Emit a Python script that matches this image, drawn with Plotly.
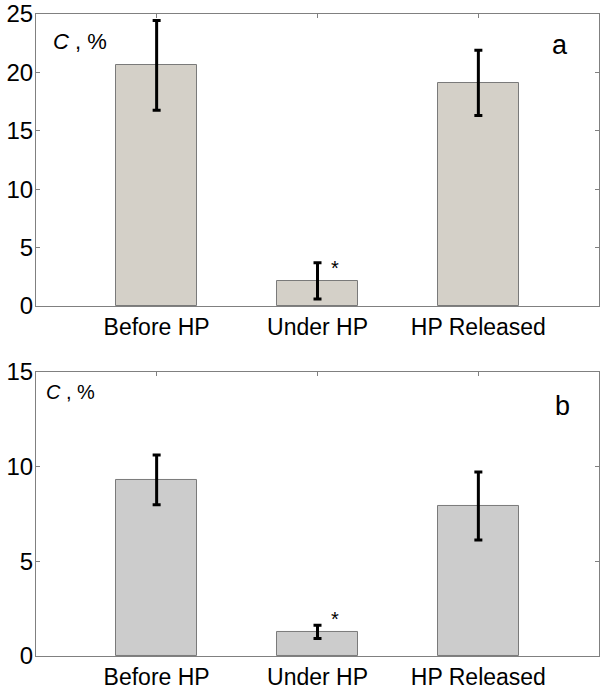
import plotly.graph_objects as go

categories = ["Before HP", "Under HP", "HP Released"]
positions = [1, 2, 3]

# Panel a
a_values = [20.6, 2.15, 19.1]
a_errors = [3.85, 1.55, 2.8]
# Panel b
b_values = [9.3, 1.28, 7.92]
b_errors = [1.31, 0.35, 1.8]

a_yticks = [0, 5, 10, 15, 20, 25]
b_yticks = [0, 5, 10, 15]

FONT = "Arial, Liberation Sans, sans-serif"
AXIS_GRAY = "#808080"

fig = go.Figure()

fig.add_trace(go.Bar(
    x=positions, y=a_values, width=0.5,
    marker=dict(color="#D4D0C8", line=dict(color="#7a7a7a", width=1)),
    error_y=dict(type="data", array=a_errors, color="black", thickness=3, width=4),
    xaxis="x", yaxis="y", showlegend=False,
))
fig.add_trace(go.Bar(
    x=positions, y=b_values, width=0.5,
    marker=dict(color="#CCCCCC", line=dict(color="#7a7a7a", width=1)),
    error_y=dict(type="data", array=b_errors, color="black", thickness=3, width=4),
    xaxis="x2", yaxis="y2", showlegend=False,
))

common_x = dict(
    range=[0.25, 3.75], tickvals=positions, ticktext=categories,
    showline=True, linecolor=AXIS_GRAY, linewidth=1, mirror="ticks",
    ticks="inside", ticklen=4, tickcolor=AXIS_GRAY,
    showgrid=False, zeroline=False, layer="below traces",
    tickfont=dict(family=FONT, size=23, color="black"),
    ticklabelstandoff=0, automargin=False, ticklabeloverflow="allow",
)
common_y = dict(
    showline=True, linecolor=AXIS_GRAY, linewidth=1, mirror="ticks",
    ticks="inside", ticklen=4, tickcolor=AXIS_GRAY,
    showgrid=False, zeroline=False, layer="below traces",
    tickfont=dict(family=FONT, size=24, color="black"),
    automargin=False, ticklabelstandoff=-3, ticklabeloverflow="allow",
)

fig.update_layout(
    width=604, height=690,
    margin=dict(l=36, r=5, t=14, b=34),
    paper_bgcolor="white", plot_bgcolor="white",
    bargap=0,
    xaxis=dict(domain=[0, 1], anchor="y", **common_x),
    yaxis=dict(domain=[0.5452, 1], anchor="x", range=[0, 25], tickvals=a_yticks, **common_y),
    xaxis2=dict(domain=[0, 1], anchor="y2", **common_x),
    yaxis2=dict(domain=[0, 0.4424], anchor="x2", range=[0, 15], tickvals=b_yticks, **common_y),
)

annotations = [
    dict(text="<i>C</i> , %", xref="x domain", yref="y domain", x=0.026, y=0.905,
         xanchor="left", yanchor="middle", showarrow=False,
         font=dict(family=FONT, size=22, color="black")),
    dict(text="a", xref="x domain", yref="y domain", x=0.93, y=0.895,
         xanchor="center", yanchor="middle", showarrow=False,
         font=dict(family=FONT, size=27, color="black")),
    dict(text="<i>C</i> , %", xref="x2 domain", yref="y2 domain", x=0.015, y=0.93,
         xanchor="left", yanchor="middle", showarrow=False,
         font=dict(family=FONT, size=20, color="black")),
    dict(text="b", xref="x2 domain", yref="y2 domain", x=0.935, y=0.88,
         xanchor="center", yanchor="middle", showarrow=False,
         font=dict(family=FONT, size=27, color="black")),
    dict(text="*", xref="x", yref="y", x=positions[1], y=a_values[1] + a_errors[1],
         xshift=17, yshift=-5, xanchor="center", yanchor="middle", showarrow=False,
         font=dict(family=FONT, size=20, color="black")),
    dict(text="*", xref="x2", yref="y2", x=positions[1], y=b_values[1] + b_errors[1],
         xshift=17, yshift=6, xanchor="center", yanchor="middle", showarrow=False,
         font=dict(family=FONT, size=20, color="black")),
]
fig.update_layout(annotations=annotations)

# remove the default 8px body margin so the 604x690 figure fills the window exactly
fig.write_html(
    "out.html",
    config={"displayModeBar": False},
    post_script="document.body.style.margin='0';document.documentElement.style.overflow='hidden';",
)
